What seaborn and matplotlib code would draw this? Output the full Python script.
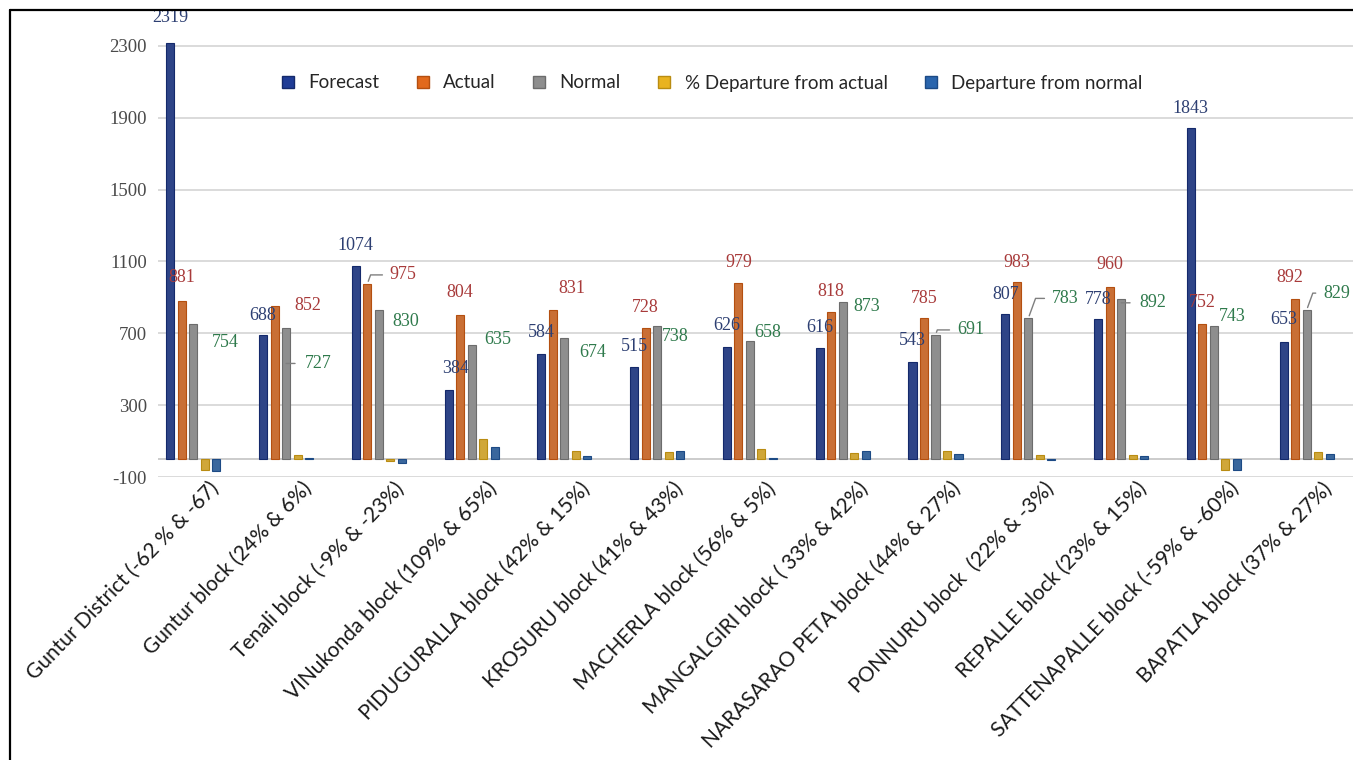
import matplotlib
matplotlib.use("Agg")
import matplotlib.pyplot as plt
import matplotlib.lines as mlines
from matplotlib.transforms import ScaledTranslation, offset_copy
import seaborn as sns
import pandas as pd

# ---- data -------------------------------------------------------------
blocks = [
    "Guntur District (-62 % & -67)",
    "Guntur block (24% & 6%)",
    "Tenali block (-9% & -23%)",
    "VINukonda block (109% & 65%)",
    "PIDUGURALLA block (42% & 15%)",
    "KROSURU block (41% & 43%)",
    "MACHERLA block (56% & 5%)",
    "MANGALGIRI block ( 33% & 42%)",
    "NARASARAO PETA block (44% & 27%)",
    "PONNURU block  (22% & -3%)",
    "REPALLE block (23% & 15%)",
    "SATTENAPALLE block (-59% & -60%)",
    "BAPATLA block (37% & 27%)",
]
forecast = [2319, 688, 1074, 384, 584, 515, 626, 616, 543, 807, 778, 1843, 653]
actual = [881, 852, 975, 804, 831, 728, 979, 818, 785, 983, 960, 752, 892]
normal = [754, 727, 830, 635, 674, 738, 658, 873, 691, 783, 892, 743, 829]
pct_dep_actual = [-62, 24, -9, 109, 42, 41, 56, 33, 44, 22, 23, -59, 37]
dep_normal = [-67, 6, -23, 65, 15, 43, 5, 42, 27, -3, 15, -60, 27]

series_names = ["Forecast", "Actual", "Normal",
                "% Departure from actual", "Departure from normal"]
y_ticks = [-100, 300, 700, 1100, 1500, 1900, 2300]

# ---- styling ----------------------------------------------------------
palette = {
    "Forecast": "#1f3c96",
    "Actual": "#e2691c",
    "Normal": "#8e8e8e",
    "% Departure from actual": "#e9b320",
    "Departure from normal": "#2a65ad",
}
edge_colors = ["#14296b", "#b44f10", "#6c6c6c", "#b98c12", "#1c4a85"]
label_colors = {"Forecast": "#2d3f72", "Actual": "#a83a3a", "Normal": "#2f7a4c"}

# data-label offsets in pixels from the top of each bar (dx, dy)
forecast_off = [(0, 25), (0, 20), (0, 21), (7, 22), (0, 22), (0, 20), (0, 21),
                (0, 21), (0, 21), (0, 20), (0, 20), (0, 20), (0, 22)]
actual_off = [(0, 23), (33, 1), (36, 9), (0, 22), (19, 21), (0, 21), (0, 21),
              (0, 21), (0, 20), (0, 20), (0, 22), (0, 21), (-5, 21)]
normal_off = [(32, -19), (32, -35), (27, -12), (26, 5), (28, -15), (18, -10),
              (18, 8), (24, -4), (35, 5), (37, 20), (32, -4), (18, 9), (30, 17)]
actual_leader = [False, False, True, False, False, False, False,
                 False, False, False, False, False, False]
normal_leader = [False, "dash", False, False, False, False, False,
                 False, True, True, "dash", False, True]

# ---- build long table --------------------------------------------------
columns = [forecast, actual, normal, pct_dep_actual, dep_normal]
rows = []
for name, vals in zip(series_names, columns):
    for b, v in zip(blocks, vals):
        rows.append({"block": b, "series": name, "value": v})
df = pd.DataFrame(rows)

sns.set_theme(style="white")
plt.rcParams["font.family"] = ["Lato", "DejaVu Sans"]

fig = plt.figure(figsize=(13.53, 7.6), dpi=100)
ax = fig.add_axes([158 / 1353, 283 / 760, 1 - 158 / 1353, 467 / 760])

sns.barplot(data=df, x="block", y="value", hue="series", order=blocks,
            hue_order=series_names, palette=palette, width=0.62, gap=0.3,
            errorbar=None, ax=ax, legend=False, linewidth=0.8)

# darker rims on each series
for cont, ec in zip(ax.containers, edge_colors):
    for patch in cont:
        patch.set_edgecolor(ec)

ax.set_ylim(-100, 2500)
ax.set_xlim(-0.38, 12.5)
ax.set_yticks(y_ticks)
ax.set_yticklabels([str(t) for t in y_ticks], family="Liberation Serif",
                   fontsize=13.5, color="#4a4a4a")
ax.tick_params(axis="y", length=0, pad=8)
ax.tick_params(axis="x", length=0, pad=1)
ax.set_xlabel("")
ax.set_ylabel("")
for s in ax.spines.values():
    s.set_visible(False)
for t in y_ticks:
    ax.axhline(t, color="#d4d4d4", linewidth=1.2, zorder=0)
ax.axhline(0, color="#c4c4c4", linewidth=1.2, zorder=0.5)

ax.set_xticks(range(len(blocks)))
ax.set_xticklabels(blocks, rotation=46, ha="right", rotation_mode="anchor",
                   fontsize=15, color="#1a1a1a")
shift = ScaledTranslation(15 / 100, 0, fig.dpi_scale_trans)
for lbl in ax.get_xticklabels():
    lbl.set_transform(lbl.get_transform() + shift)

# ---- data labels ------------------------------------------------------
lead_style = dict(arrowstyle="-", color="#7f7f7f", lw=1)


def put_labels(container, values, offsets, color, leaders):
    for i, (patch, v) in enumerate(zip(container, values)):
        x = patch.get_x() + patch.get_width() / 2
        dx, dy = offsets[i]
        lead = leaders[i] if leaders is not None else False
        kw = {}
        if lead is True:
            kw["arrowprops"] = dict(relpos=(0, 0.5), shrinkA=3, shrinkB=2,
                                    connectionstyle="angle,angleA=0,angleB=70,rad=0",
                                    **lead_style)
        ax.annotate(str(v), xy=(x, v), xytext=(dx, dy), textcoords="offset pixels",
                    ha="center", va="center", color=color, fontsize=13,
                    family="Liberation Serif", annotation_clip=False, **kw)
        if lead == "dash":
            # short horizontal tick between bar and label
            base = offset_copy(ax.transData, fig=fig, x=dx - 23, y=dy, units="dots")
            ax.annotate("", xy=(x, v), xycoords=base, xytext=(-9, 0),
                        textcoords="offset pixels", arrowprops=dict(shrinkA=0, shrinkB=0,
                                                                   **lead_style),
                        annotation_clip=False)


put_labels(ax.containers[0], forecast, forecast_off, label_colors["Forecast"], None)
put_labels(ax.containers[1], actual, actual_off, label_colors["Actual"], actual_leader)
put_labels(ax.containers[2], normal, normal_off, label_colors["Normal"], normal_leader)

# ---- legend -----------------------------------------------------------
handles = [mlines.Line2D([], [], marker="s", linestyle="none", markersize=8,
                         markerfacecolor=palette[n], markeredgecolor=ec)
           for n, ec in zip(series_names, edge_colors)]
fig.legend(handles, series_names, loc="center", bbox_to_anchor=(706 / 1353, 1 - 83 / 760),
           ncol=5, frameon=False, fontsize=13.5, handletextpad=0.1,
           columnspacing=1.3, labelcolor="#262626")

# ---- outer frame ------------------------------------------------------
fig.add_artist(mlines.Line2D([10 / 1353, 10 / 1353], [0, 1 - 10 / 760],
                             transform=fig.transFigure, color="black", lw=1.6))
fig.add_artist(mlines.Line2D([10 / 1353, 1], [1 - 10 / 760, 1 - 10 / 760],
                             transform=fig.transFigure, color="black", lw=1.6))

fig.savefig("out.png", dpi=100)
